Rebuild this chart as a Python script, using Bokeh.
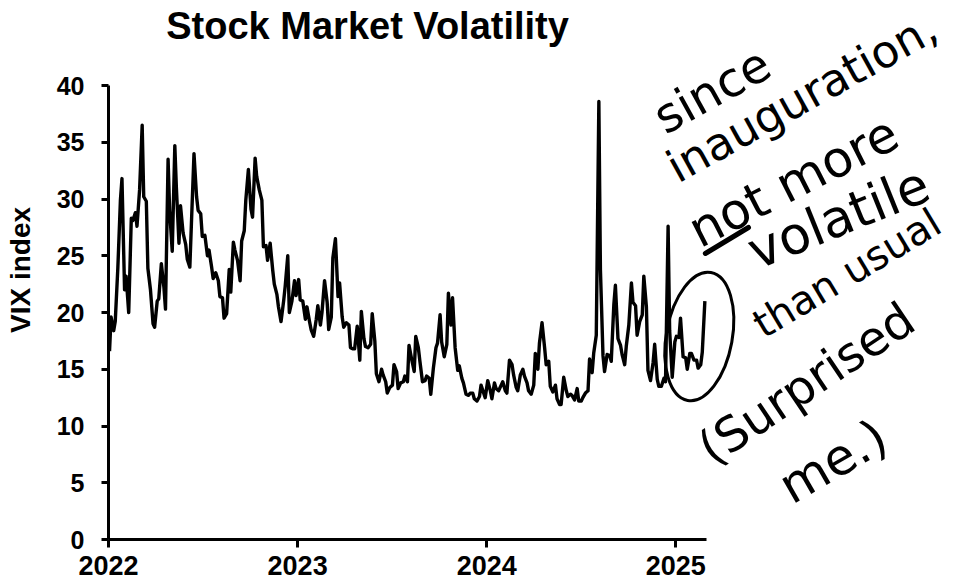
import pandas as pd
from bokeh.plotting import figure
from bokeh.models import Range1d, FixedTicker, NumeralTickFormatter, Label
from bokeh.embed import file_html
from bokeh.resources import INLINE

title_text = "Stock Market Volatility"
y_label = "VIX index"
year_ticks = [2022, 2023, 2024, 2025]
vix_ticks = [0, 5, 10, 15, 20, 25, 30, 35, 40]

# VIX readings, sampled every third business day, per year
vix_2022 = [16.6, 19.6, 18.4, 19.2, 23.9, 29.9, 31.8, 22.0, 23.2, 20.0,
            28.3, 28.1, 28.8, 27.6, 30.8, 36.5, 30.2, 29.8, 23.9, 22.0,
            19.0, 18.7, 21.0, 21.2, 24.3, 22.2, 20.3, 33.5, 29.0, 25.4,
            34.7, 31.0, 26.1, 29.4, 27.0, 26.0, 24.7, 24.0, 27.8, 34.0,
            30.2, 29.0, 28.7, 26.7, 26.8, 25.0, 25.5, 24.0, 23.0, 23.5,
            22.8, 21.4, 21.3, 19.5, 19.9, 23.8, 21.8, 26.2, 25.5, 24.6,
            22.8, 26.3, 27.2, 29.9, 32.6, 29.1, 28.4, 33.6, 32.0, 30.8,
            29.9, 25.8, 25.9, 24.6, 26.1, 23.7, 22.5, 21.6, 20.5, 19.2,
            21.0, 22.3, 25.0, 20.0, 21.0, 22.8, 21.5]
vix_2023 = [22.9, 21.1, 21.0, 19.4, 20.5, 19.2, 18.5, 17.9, 19.4, 20.6,
            18.9, 20.0, 22.8, 20.9, 18.5, 19.6, 24.8, 26.5, 21.4, 22.6,
            19.6, 18.7, 19.1, 18.9, 16.9, 16.8, 16.8, 18.8, 15.8, 20.1,
            17.7, 17.0, 16.9, 17.2, 19.9, 17.5, 14.6, 13.9, 15.0, 14.5,
            13.9, 12.9, 13.4, 13.6, 15.4, 14.8, 13.3, 13.8, 13.9, 14.4,
            13.9, 17.1, 15.9, 14.8, 17.9, 16.9, 15.7, 13.9, 14.0, 14.4,
            14.2, 12.8, 15.1, 16.9, 17.3, 19.8, 17.4, 16.1, 17.2, 21.7,
            18.9, 21.3, 16.9, 14.9, 15.3, 14.2, 13.8, 12.8, 12.7, 12.9,
            12.9, 12.4, 12.2, 12.6, 13.6, 12.9, 12.5]
vix_2024 = [14.0, 13.1, 12.4, 13.8, 13.3, 13.1, 13.6, 13.9, 13.1, 12.9,
            15.8, 15.4, 14.5, 13.4, 13.1, 14.5, 15.0, 14.4, 13.8, 13.1,
            12.8, 13.6, 16.4, 15.0, 17.3, 19.1, 16.9, 15.4, 15.7, 13.5,
            13.0, 13.6, 12.4, 11.9, 11.9, 14.3, 13.1, 12.6, 12.8, 12.7,
            12.3, 13.3, 12.2, 12.2, 12.5, 12.9, 13.1, 15.9, 14.7, 16.4,
            18.0, 38.6, 23.8, 16.2, 14.8, 16.3, 16.2, 15.7, 20.7, 22.4,
            17.7, 17.1, 16.3, 15.4, 17.0, 18.9, 22.6, 20.9, 20.6, 18.0,
            19.2, 19.8, 23.2, 20.5, 14.9, 14.0, 15.6, 17.2, 14.1, 13.5,
            13.5, 14.2, 13.9, 27.6, 18.4, 14.3, 17.4]
vix_2025 = [17.9, 17.8, 19.5, 16.1, 16.0, 15.0, 16.4, 16.4, 15.8, 15.8,
            15.1, 15.4, 16.5, 21.0]
series_starts = ["2022-01-03", "2023-01-03", "2024-01-03", "2025-01-02"]
series_values = [vix_2022, vix_2023, vix_2024, vix_2025]

# handwritten note (text, x in years, y in VIX units, angle in degrees, size)
note_lines = ["since", "inauguration,", "not more", "volatile",
              "than usual", "(Surprised", "me.)"]
note_x = [2024.902, 2024.971, 2025.087, 2025.394, 2025.426, 2025.146, 2025.569]
note_y = [36.94, 32.53, 26.98, 25.22, 18.70, 7.68, 4.34]
note_angle = [29, 29, 27, 22, 31, 34, 30]
note_size = [48, 45, 50, 52, 40, 48, 50]


def frac_year(d):
    days = 366 if d.is_leap_year else 365
    return d.year + (d.dayofyear - 1) / days


xs, ys = [], []
for start, vals in zip(series_starts, series_values):
    dates = pd.bdate_range(start, periods=3 * len(vals))[::3]
    xs.extend(frac_year(d) for d in dates)
    ys.extend(vals)

p = figure(width=963, height=588, output_backend="svg", toolbar_location=None,
           x_range=Range1d(2022.0, 2026.521), y_range=Range1d(0, 47.49),
           min_border_left=108, min_border_right=0, min_border_top=0,
           min_border_bottom=49)
p.outline_line_color = None
p.grid.visible = False
p.background_fill_color = "white"
p.border_fill_color = "white"

p.line(xs, ys, line_width=3.4, line_color="black", line_join="round")

ax = p.xaxis[0]
ax.bounds = (2022.0, 2025.16)
ax.ticker = FixedTicker(ticks=year_ticks)
ax.formatter = NumeralTickFormatter(format="0")
ax.axis_line_width = 3
ax.axis_line_color = "black"
ax.major_tick_line_width = 3
ax.major_tick_line_color = "black"
ax.major_tick_out = 8
ax.major_tick_in = 0
ax.minor_tick_line_color = None
ax.major_label_text_font = "Liberation Sans"
ax.major_label_text_font_style = "bold"
ax.major_label_text_font_size = "27px"
ax.major_label_text_color = "black"
ax.major_label_standoff = 8

ay = p.yaxis[0]
ay.bounds = (0, 40)
ay.ticker = FixedTicker(ticks=vix_ticks)
ay.axis_line_width = 3
ay.axis_line_color = "black"
ay.major_tick_line_width = 3
ay.major_tick_line_color = "black"
ay.major_tick_out = 7
ay.major_tick_in = 0
ay.minor_tick_line_color = None
ay.major_label_text_font = "Liberation Sans"
ay.major_label_text_font_style = "bold"
ay.major_label_text_font_size = "25px"
ay.major_label_text_color = "black"
ay.major_label_standoff = 17
ay.axis_label = y_label
ay.axis_label_text_font = "Liberation Sans"
ay.axis_label_text_font_style = "bold"
ay.axis_label_text_font_size = "28px"
ay.axis_label_text_color = "black"
ay.axis_label_standoff = 18

p.add_layout(Label(x=2023.37, y=45.2, text=title_text, text_align="center",
                   text_baseline="alphabetic", text_font="Liberation Sans",
                   text_font_style="bold", text_font_size="38px",
                   text_color="black"))

for t, x, y, a, s in zip(note_lines, note_x, note_y, note_angle, note_size):
    p.add_layout(Label(x=x, y=y, text=t, angle=a, angle_units="deg",
                       text_align="left", text_baseline="alphabetic",
                       text_font="DejaVu Sans", text_font_size=f"{s}px",
                       text_color="black"))

# underline below "not" and the circle around the latest readings
p.segment(x0=[2025.156], y0=[25.20], x1=[2025.384], y1=[27.49],
          line_width=5, line_color="black", line_cap="round")
p.ellipse(x=[2025.124], y=[17.89], width=66, height=130,
          width_units="screen", height_units="screen", angle=-0.18,
          fill_color=None, line_color="black", line_width=3)

open("out.html", "w").write(file_html(p, INLINE))
